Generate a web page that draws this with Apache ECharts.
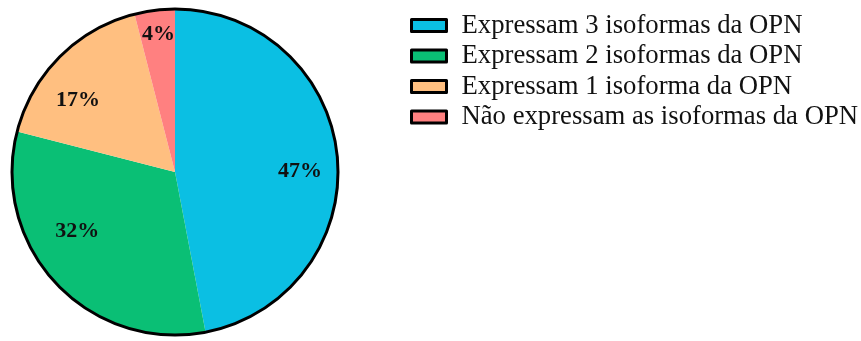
<!DOCTYPE html>
<html><head><meta charset="utf-8">
<script src="https://cdn.jsdelivr.net/npm/echarts@6/dist/echarts.min.js"></script>
<style>html,body{margin:0;padding:0;background:#fff}#c{width:861px;height:341px}</style>
</head><body><div id="c"></div>
<script>
const categories = ['Expressam 3 isoformas da OPN','Expressam 2 isoformas da OPN','Expressam 1 isoforma da OPN','Não expressam as isoformas da OPN'];
const values = [47, 32, 17, 4];
const colors = ['#0BBFE3','#0ABF75','#FFBF80','#FF8080'];
// label nudges (layout only)
const labelNudge = [[1,11],[-7,-26],[-9,16],[-1,-14]];

const chart = echarts.init(document.getElementById('c'));
const font = '"Liberation Serif","Times New Roman",serif';
chart.setOption({
  animation: false,
  legend: {
    data: categories,
    orient: 'vertical',
    left: 405, top: 7,
    icon: 'rect',
    itemWidth: 35, itemHeight: 12,
    itemGap: 3.5,
    itemStyle: {borderColor: '#000', borderWidth: 3},
    textStyle: {fontFamily: font, fontSize: 26.7, color: '#111', lineHeight: 26, padding: [0,0,0,10]}
  },
  series: [
    {
      type: 'pie', center: [175, 172], radius: 163, startAngle: 90, clockwise: true,
      silent: true,
      data: categories.map((n,i)=>({name:n, value: values[i], itemStyle:{color: colors[i]}})),
      label: {show: false}, labelLine: {show: false}
    },
    {
      type: 'pie', center: [175, 172], radius: [80, 163], startAngle: 90, clockwise: true,
      silent: true,
      data: categories.map((n,i)=>({name:n, value: values[i], itemStyle:{color:'rgba(0,0,0,0)'}, label:{offset: labelNudge[i]}})),
      label: {show: true, position: 'inside', formatter: '{c}%', fontFamily: font, fontWeight: 'bold', fontSize: 22, color: '#111'},
      labelLine: {show: false}
    },
    {
      type: 'pie', center: [175, 172], radius: 163, silent: true,
      data: [{name: '_outline', value: 1, itemStyle: {color: 'rgba(0,0,0,0)', borderColor: '#000', borderWidth: 3}}],
      label: {show: false}, labelLine: {show: false}
    }
  ]
});
</script></body></html>
